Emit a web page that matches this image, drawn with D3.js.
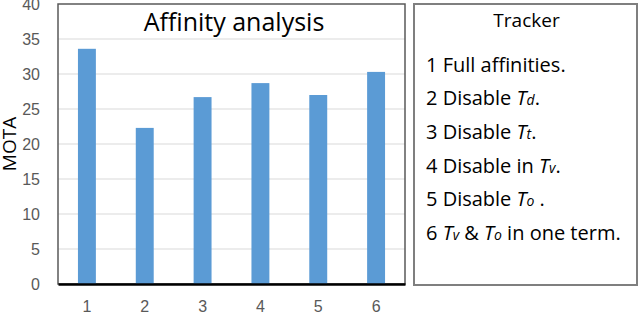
<!DOCTYPE html>
<html>
<head>
<meta charset="utf-8">
<script src="https://cdn.jsdelivr.net/npm/d3@7"></script>
<style>
  body { margin: 0; background: #fff; }
  svg { display: block; font-family: "Open Sans", sans-serif; }
</style>
</head>
<body>
<svg id="chart" width="640" height="313"></svg>
<script>
// data
const categories = ["1", "2", "3", "4", "5", "6"];
const motaValues = [33.6, 22.3, 26.7, 28.7, 27.0, 30.3];
const yTicks = [0, 5, 10, 15, 20, 25, 30, 35, 40];
const legendTitle = "Tracker";
// each legend row: pieces of text, i = italic, s = small letter after T
const legendRows = [
    [{t: "1 Full affinities."}],
    [{t: "2 Disable "}, {t: "T", i: true}, {t: "d", i: true, s: true}, {t: "."}],
    [{t: "3 Disable "}, {t: "T", i: true}, {t: "t", i: true, s: true}, {t: "."}],
    [{t: "4 Disable in "}, {t: "T", i: true}, {t: "v", i: true, s: true}, {t: "."}],
    [{t: "5 Disable "}, {t: "T", i: true}, {t: "o", i: true, s: true}, {t: " ."}],
    [{t: "6 "}, {t: "T", i: true}, {t: "v", i: true, s: true}, {t: " & "}, {t: "T", i: true}, {t: "o", i: true, s: true}, {t: " in one term."}]
];

const plot = {left: 58, right: 405, top: 4, bottom: 284};
const svg = d3.select("#chart");

const x = d3.scaleBand()
    .domain(categories)
    .range([plot.left, plot.right])
    .paddingInner(0.69)
    .paddingOuter(0.345);

const y = d3.scaleLinear()
    .domain([0, 40])
    .range([plot.bottom, plot.top]);

// gridlines
svg.append("g")
    .selectAll("line")
    .data(yTicks.filter(d => d > 0 && d < 40))
    .enter().append("line")
    .attr("x1", plot.left).attr("x2", plot.right)
    .attr("y1", d => y(d)).attr("y2", d => y(d))
    .attr("stroke", "#d9d9d9")
    .attr("stroke-width", 1);

// plot frame
svg.append("rect")
    .attr("x", plot.left).attr("y", plot.top)
    .attr("width", plot.right - plot.left)
    .attr("height", plot.bottom - plot.top)
    .attr("fill", "none")
    .attr("stroke", "#595959")
    .attr("stroke-width", 1.5);

// bars
svg.append("g")
    .selectAll("rect")
    .data(motaValues)
    .enter().append("rect")
    .attr("x", (d, i) => x(categories[i]))
    .attr("y", d => y(d))
    .attr("width", x.bandwidth())
    .attr("height", d => y(0) - y(d))
    .attr("fill", "#5b9bd5");

// y axis labels
const yAxis = d3.axisLeft(y).tickValues(yTicks).tickSize(0).tickPadding(18);
const yg = svg.append("g")
    .attr("transform", "translate(" + plot.left + ",0)")
    .call(yAxis);
yg.select(".domain").remove();
yg.selectAll("text")
    .style("font-size", "16px")
    .attr("fill", "#595959");

// x axis
const xAxis = d3.axisBottom(x).tickSize(0).tickPadding(17);
const xg = svg.append("g")
    .attr("transform", "translate(0," + plot.bottom + ")")
    .call(xAxis);
xg.select(".domain")
    .attr("stroke", "#000")
    .attr("stroke-width", 2.5);
xg.selectAll("text")
    .style("font-size", "16px")
    .attr("fill", "#595959");

// y label
svg.append("text")
    .attr("transform", "translate(9,144) rotate(-90)")
    .attr("text-anchor", "middle")
    .attr("dy", "0.35em")
    .style("font-size", "19px")
    .attr("fill", "#000")
    .text("MOTA");

// title
svg.append("text")
    .attr("x", 234)
    .attr("y", 31)
    .attr("text-anchor", "middle")
    .style("font-size", "25px")
    .attr("fill", "#000")
    .text("Affinity analysis");

// legend box
const legend = {left: 414, right: 637, top: 4, bottom: 285};
svg.append("rect")
    .attr("x", legend.left).attr("y", legend.top)
    .attr("width", legend.right - legend.left)
    .attr("height", legend.bottom - legend.top)
    .attr("fill", "#fff")
    .attr("stroke", "#7f7f7f")
    .attr("stroke-width", 2);

svg.append("text")
    .attr("x", (legend.left + legend.right) / 2 + 1)
    .attr("y", 27)
    .attr("text-anchor", "middle")
    .style("font-size", "19px")
    .text(legendTitle);

const rows = svg.append("g").selectAll("text")
    .data(legendRows)
    .enter().append("text")
    .attr("x", 426)
    .attr("y", (d, i) => 71.5 + i * 33.7)
    .style("font-size", "20px");

rows.selectAll("tspan")
    .data(d => d)
    .enter().append("tspan")
    .style("font-style", d => d.i ? "italic" : null)
    .style("font-size", d => d.s ? "14px" : null)
    .text(d => d.t);
</script>
</body>
</html>
